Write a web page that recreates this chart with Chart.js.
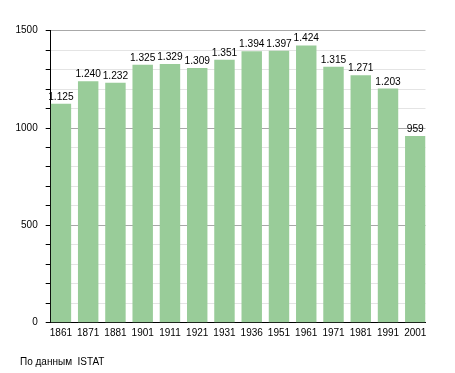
<!DOCTYPE html>
<html>
<head>
<meta charset="utf-8">
<script src="https://cdn.jsdelivr.net/npm/chart.js@4/dist/chart.umd.min.js"></script>
<style>
  html, body { margin: 0; padding: 0; background: #fff; }
  #wrap { position: relative; width: 455px; height: 373px; }
  #note { position: absolute; left: 20px; top: 357px; font: 10px "Liberation Sans", Arial, sans-serif; line-height: 1; color: #000; white-space: pre; }
</style>
</head>
<body>
<div id="wrap">
  <canvas id="c" width="455" height="373"></canvas>
  <div id="note">По данным  ISTAT</div>
</div>
<script>
const years = ["1861","1871","1881","1901","1911","1921","1931","1936","1951","1961","1971","1981","1991","2001"];
const population = [1125, 1240, 1232, 1325, 1329, 1309, 1351, 1394, 1397, 1424, 1315, 1271, 1203, 959];
const yTickMax = 1500;
const yMajorStep = 500;
const yMinorStep = 100;

const barRatio = 0.75;
const FONT = "'Liberation Sans', Arial, sans-serif";

function fmt(v) {
  if (v >= 1000) return Math.floor(v / 1000) + '.' + String(v % 1000).padStart(3, '0');
  return String(v);
}

const valueLabels = {
  id: 'valueLabels',
  afterDatasetsDraw(chart) {
    const ctx = chart.ctx;
    const meta = chart.getDatasetMeta(0);
    ctx.save();
    ctx.font = "10.2px " + FONT;
    ctx.fillStyle = '#000';
    ctx.textAlign = 'center';
    ctx.textBaseline = 'alphabetic';
    meta.data.forEach((bar, i) => {
      ctx.fillText(fmt(population[i]), bar.x, bar.y - 4);
    });
    ctx.restore();
  }
};

new Chart(document.getElementById('c'), {
  type: 'bar',
  data: {
    datasets: [{
      data: population.map((v, i) => ({ x: i, y: v })),
      backgroundColor: '#99cc99',
      borderWidth: 0,
      barPercentage: 1,
      categoryPercentage: barRatio
    }]
  },
  options: {
    responsive: false,
    animation: false,
    devicePixelRatio: 1,
    layout: { padding: { left: 0, top: 30.7, right: 29.5, bottom: 0 } },
    plugins: { legend: { display: false }, tooltip: { enabled: false } },
    scales: {
      x: {
        type: 'linear',
        offset: false,
        min: -barRatio / 2,
        max: years.length - 1 + barRatio / 2,
        afterBuildTicks(scale) { scale.ticks = years.map((y, i) => ({ value: i })); },
        afterFit(scale) { scale.height = 50.3; },
        grid: { display: false, drawTicks: false, tickLength: 0, offset: false },
        border: { display: true, color: '#000', width: 1 },
        ticks: {
          autoSkip: false, maxRotation: 0, padding: 5,
          color: '#000', font: { family: FONT, size: 10 },
          callback: (v) => years[v]
        }
      },
      y: {
        min: 0, max: yTickMax,
        afterFit(scale) { scale.width = 50.7; },
        grid: {
          color: (c) => (c.tick && c.tick.value % yMajorStep === 0) ? '#a8a8a8' : '#e4e4e4',
          tickColor: '#000',
          tickLength: 5,
          drawTicks: true
        },
        border: { display: true, color: '#000', width: 1 },
        ticks: {
          stepSize: yMinorStep, autoSkip: false, padding: 8,
          color: '#000', font: { family: FONT, size: 10 },
          callback: (v) => (v % yMajorStep === 0 ? String(v) : '')
        }
      }
    }
  },
  plugins: [valueLabels]
});
</script>
</body>
</html>
